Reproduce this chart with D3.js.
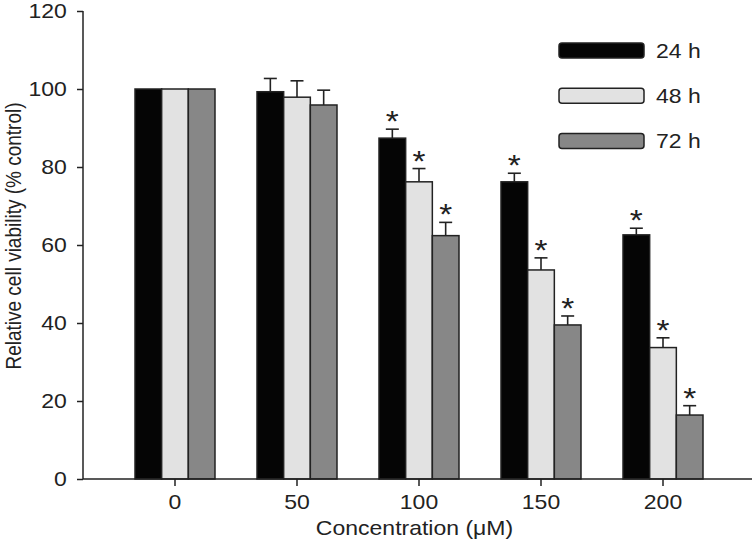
<!DOCTYPE html>
<html><head><meta charset="utf-8">
<script src="https://cdn.jsdelivr.net/npm/d3@7"></script>
<style>body{margin:0;background:#fff}svg{display:block}text{font-family:"Liberation Sans",Arial,Helvetica,sans-serif;fill:#222}</style>
</head><body><svg id="c" width="756" height="541"></svg>
<script>
const categories = ["0","50","100","150","200"];
const seriesNames = ["24 h","48 h","72 h"];
const values24 = [100, 99.3, 87.4, 76.2, 62.6];
const values48 = [100, 97.9, 76.2, 53.6, 33.7];
const values72 = [100, 95.9, 62.4, 39.5, 16.4];
const err24 = [0, 3.4, 2.3, 2.2, 1.7];
const err48 = [0, 4.2, 3.4, 3.1, 2.5];
const err72 = [0, 3.8, 3.4, 2.3, 2.4];
const sig24 = [false,false,true,true,true];
const sig48 = [false,false,true,true,true];
const sig72 = [false,false,true,true,true];
const yTicks = [0,20,40,60,80,100,120];
const colors = ["#050505","#e2e2e2","#878787"];

const series = [
  {name:seriesNames[0], vals:values24, err:err24, sig:sig24},
  {name:seriesNames[1], vals:values48, err:err48, sig:sig48},
  {name:seriesNames[2], vals:values72, err:err72, sig:sig72}
];
const SX = 1.15; // horizontal stretch of the lettering

const svg = d3.select("#c");
const y = d3.scaleLinear().domain([0,120]).range([479,11]);
const x = d3.scaleBand().domain(categories).range([135,703]).paddingInner(0.3443).paddingOuter(0);
const xs = d3.scaleBand().domain(seriesNames).range([0, x.bandwidth()]);

function txt(parent, px, py, str, size, anchor){
  return parent.append("text").attr("transform",`translate(${px},${py}) scale(${SX},1)`)
    .attr("text-anchor",anchor||"start").attr("font-size",size).text(str);
}

// bars
const g = svg.append("g");
categories.forEach((c,i)=>{
  series.forEach((s,j)=>{
    const bx = x(c)+xs(s.name);
    const bw = xs.bandwidth();
    const cx = bx + bw/2;
    if (s.err[i] > 0) {
      const ty = y(s.vals[i]+s.err[i]);
      g.append("line").attr("x1",cx).attr("x2",cx).attr("y1",y(s.vals[i])).attr("y2",ty)
        .attr("stroke","#222").attr("stroke-width",1.6);
      g.append("line").attr("x1",cx-6.5).attr("x2",cx+6.5).attr("y1",ty).attr("y2",ty)
        .attr("stroke","#222").attr("stroke-width",1.6);
    }
    g.append("rect").attr("x",bx).attr("y",y(s.vals[i])).attr("width",bw).attr("height",y(0)-y(s.vals[i]))
      .attr("fill",colors[j]).attr("stroke","#222").attr("stroke-width",1.5);
    if (s.sig[i]) {
      txt(g, cx, y(s.vals[i]+s.err[i])+2, "*", 29, "middle");
    }
  });
});

// y axis
const yAxis = d3.axisLeft(y).tickValues(yTicks).tickSize(6).tickPadding(8);
const ya = svg.append("g").attr("transform","translate(83,0)").call(yAxis);
ya.select(".domain").attr("stroke","#222").attr("stroke-width",1.5).attr("d","M0,11V479");
ya.selectAll(".tick line").attr("stroke","#222").attr("stroke-width",1.5);
ya.selectAll(".tick text").attr("font-size",20).attr("fill","#222").attr("transform",`scale(${SX},1)`)
  .style("font-family","Liberation Sans, Arial, sans-serif");

// x axis
const xAxis = d3.axisBottom(x).tickSize(7).tickPadding(9);
const xa = svg.append("g").attr("transform","translate(0,479)").call(xAxis);
xa.select(".domain").attr("stroke","#222").attr("stroke-width",1.5).attr("d","M83,0H752");
xa.selectAll(".tick line").attr("stroke","#222").attr("stroke-width",1.5);
xa.selectAll(".tick text").attr("font-size",20).attr("fill","#222").attr("transform",`scale(${SX},1)`)
  .style("font-family","Liberation Sans, Arial, sans-serif");

// titles
txt(svg, 414.5, 535, "Concentration (μM)", 20, "middle");
svg.append("text").attr("transform",`translate(21,236) scale(${SX},1) rotate(-90)`)
  .attr("text-anchor","middle").attr("font-size",19).text("Relative cell viability (% control)");

// legend
const leg = svg.append("g");
series.forEach((s,j)=>{
  const ly = 50.5 + j*45.3;
  leg.append("rect").attr("x",559).attr("y",ly-7.5).attr("width",85).attr("height",15).attr("rx",3)
    .attr("fill",colors[j]).attr("stroke","#222").attr("stroke-width",1.5);
  txt(leg, 656, ly+7.2, s.name, 20, "start");
});
</script></body></html>
